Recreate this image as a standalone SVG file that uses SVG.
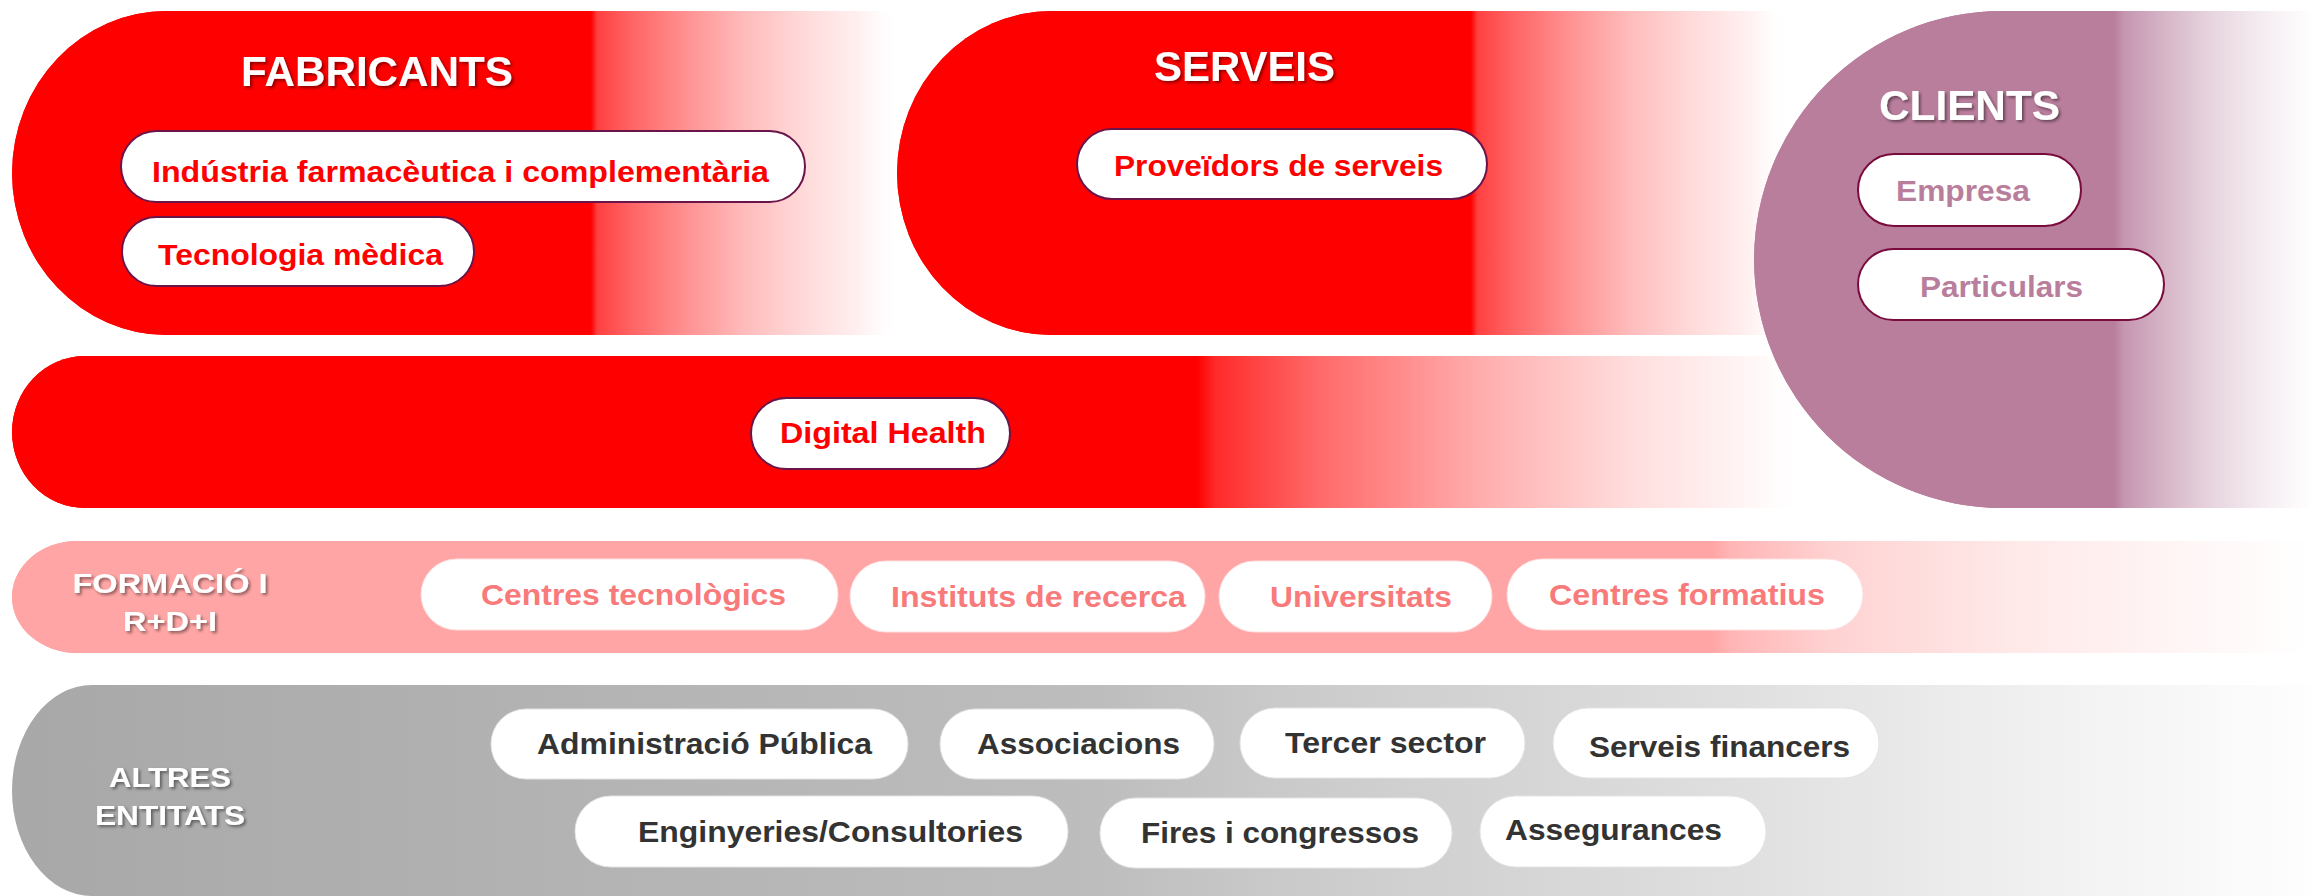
<svg xmlns="http://www.w3.org/2000/svg" width="2313" height="896" viewBox="0 0 2313 896">
  <defs>
    <linearGradient id="gFab" gradientUnits="userSpaceOnUse" x1="591" y1="0" x2="900" y2="0">
      <stop offset="0" stop-color="#ff0000"/>
      <stop offset="0.02" stop-color="#ff4040"/>
      <stop offset="0.13" stop-color="#ff6464"/>
      <stop offset="0.32" stop-color="#ff9494"/>
      <stop offset="0.5" stop-color="#ffbcbc"/>
      <stop offset="0.69" stop-color="#ffdada"/>
      <stop offset="0.87" stop-color="#fff0f0"/>
      <stop offset="1" stop-color="#ffffff" stop-opacity="0"/>
    </linearGradient>
    <linearGradient id="gSer" gradientUnits="userSpaceOnUse" x1="1471" y1="0" x2="1790" y2="0">
      <stop offset="0" stop-color="#ff0000"/>
      <stop offset="0.02" stop-color="#ff4040"/>
      <stop offset="0.13" stop-color="#ff6464"/>
      <stop offset="0.32" stop-color="#ff9494"/>
      <stop offset="0.5" stop-color="#ffbcbc"/>
      <stop offset="0.69" stop-color="#ffdada"/>
      <stop offset="0.87" stop-color="#fff0f0"/>
      <stop offset="1" stop-color="#ffffff" stop-opacity="0"/>
    </linearGradient>
    <linearGradient id="gDig" gradientUnits="userSpaceOnUse" x1="1197" y1="0" x2="1810" y2="0">
      <stop offset="0" stop-color="#ff0000"/>
      <stop offset="0.03" stop-color="#ff2a2a"/>
      <stop offset="0.2" stop-color="#ff6a6a"/>
      <stop offset="0.45" stop-color="#ffaaaa"/>
      <stop offset="0.7" stop-color="#ffdcdc"/>
      <stop offset="0.9" stop-color="#fff6f6"/>
      <stop offset="1" stop-color="#ffffff" stop-opacity="0"/>
    </linearGradient>
    <linearGradient id="gCli" gradientUnits="userSpaceOnUse" x1="2114" y1="0" x2="2313" y2="0">
      <stop offset="0" stop-color="#b97e9c"/>
      <stop offset="0.05" stop-color="#c596b0"/>
      <stop offset="0.28" stop-color="#d8b9ca"/>
      <stop offset="0.47" stop-color="#e6d2dd"/>
      <stop offset="0.67" stop-color="#f1e6ec"/>
      <stop offset="0.9" stop-color="#fbf8fa"/>
      <stop offset="1" stop-color="#ffffff"/>
    </linearGradient>
    <linearGradient id="gFor" gradientUnits="userSpaceOnUse" x1="1712" y1="0" x2="2313" y2="0">
      <stop offset="0" stop-color="#ffa5a5"/>
      <stop offset="0.03" stop-color="#ffb5b5"/>
      <stop offset="0.2" stop-color="#ffd2d2"/>
      <stop offset="0.49" stop-color="#ffe8e8"/>
      <stop offset="0.77" stop-color="#fff5f5"/>
      <stop offset="1" stop-color="#ffffff"/>
    </linearGradient>
    <linearGradient id="gAlt" gradientUnits="userSpaceOnUse" x1="12" y1="0" x2="2313" y2="0">
      <stop offset="0" stop-color="#a8a8a8"/>
      <stop offset="0.47" stop-color="#bdbdbd"/>
      <stop offset="0.56" stop-color="#cbcbcb"/>
      <stop offset="0.74" stop-color="#dedede"/>
      <stop offset="0.87" stop-color="#efefef"/>
      <stop offset="1" stop-color="#fefefe"/>
    </linearGradient>
    <filter id="shadow" x="-10%" y="-30%" width="120%" height="160%">
      <feDropShadow dx="2" dy="2" stdDeviation="1.5" flood-color="#000" flood-opacity="0.45"/>
    </filter>
  </defs>
  <style>
    text { font-family: "Liberation Sans", Arial, sans-serif; font-weight: bold; text-anchor: middle; }
    .title { fill: #ffffff; font-size: 43px; filter: url(#shadow); }
    .side { fill: #ffffff; font-size: 28px; filter: url(#shadow); }
    .pillR { fill: #ffffff; stroke: #6a1549; stroke-width: 2; }
    .pillC { fill: #ffffff; stroke: #7a0b3d; stroke-width: 2; }
    .pillF { fill: #ffffff; stroke: #ffe0e0; stroke-width: 1; }
    .pillA { fill: #ffffff; stroke: #e4e4e4; stroke-width: 1; }
    .tR { fill: #ff0000; font-size: 30px; }
    .tC { fill: #b97e9c; font-size: 30px; }
    .tF { fill: #f87a7a; font-size: 30px; }
    .tA { fill: #333333; font-size: 30px; }
  </style>

  <rect width="2313" height="896" fill="#ffffff"/>

  <g id="fabricants">
    <path d="M167,11 H900 V335 H167 A155 162 0 0 1 167,11 Z" fill="url(#gFab)"/>
    <path d="M167,11 H591 V335 H167 A155 162 0 0 1 167,11 Z" fill="#ff0000"/>
    <text class="title" x="377" y="86" textLength="272" lengthAdjust="spacingAndGlyphs">FABRICANTS</text>
    <g id="industria-farmaceutica">
      <rect class="pillR" x="121" y="131" width="684" height="71" rx="35.5"/>
      <text class="tR" x="460.5" y="182" textLength="617" lengthAdjust="spacingAndGlyphs">Indústria farmacèutica i complementària</text>
    </g>
    <g id="tecnologia-medica">
      <rect class="pillR" x="122" y="217" width="352" height="69" rx="34.5"/>
      <text class="tR" x="300.5" y="265" textLength="285" lengthAdjust="spacingAndGlyphs">Tecnologia mèdica</text>
    </g>
  </g>

  <g id="serveis">
    <path d="M1052,11 H1790 V335 H1052 A155 162 0 0 1 1052,11 Z" fill="url(#gSer)"/>
    <path d="M1052,11 H1471 V335 H1052 A155 162 0 0 1 1052,11 Z" fill="#ff0000"/>
    <text class="title" x="1244.5" y="81" font-size="42" textLength="181" lengthAdjust="spacingAndGlyphs">SERVEIS</text>
    <g id="proveidors">
      <rect class="pillR" x="1077" y="129" width="410" height="70" rx="35"/>
      <text class="tR" x="1278.5" y="176" textLength="329" lengthAdjust="spacingAndGlyphs">Proveïdors de serveis</text>
    </g>
  </g>

  <g id="digital-health-band">
    <path d="M85,356 H1810 V508 H85 A73 76 0 0 1 85,356 Z" fill="url(#gDig)"/>
    <path d="M85,356 H1197 V508 H85 A73 76 0 0 1 85,356 Z" fill="#ff0000"/>
    <g id="digital-health">
      <rect class="pillR" x="751" y="398" width="259" height="71" rx="35.5"/>
      <text class="tR" x="883" y="443" textLength="206" lengthAdjust="spacingAndGlyphs">Digital Health</text>
    </g>
  </g>

  <g id="clients">
    <path d="M2002,11 H2313 V508 H2002 A248 248.5 0 0 1 2002,11 Z" fill="url(#gCli)"/>
    <path d="M2002,11 H2114 V508 H2002 A248 248.5 0 0 1 2002,11 Z" fill="#b97e9c"/>
    <text class="title" x="1969.5" y="120" font-size="41" textLength="181" lengthAdjust="spacingAndGlyphs">CLIENTS</text>
    <g id="empresa">
      <rect class="pillC" x="1858" y="154" width="223" height="72" rx="36"/>
      <text class="tC" x="1963" y="201" textLength="134" lengthAdjust="spacingAndGlyphs">Empresa</text>
    </g>
    <g id="particulars">
      <rect class="pillC" x="1858" y="249" width="306" height="71" rx="35.5"/>
      <text class="tC" x="2001.5" y="297" textLength="163" lengthAdjust="spacingAndGlyphs">Particulars</text>
    </g>
  </g>

  <g id="formacio">
    <path d="M77,541 H2313 V653 H77 A65 56 0 0 1 77,541 Z" fill="url(#gFor)"/>
    <path d="M77,541 H1712 V653 H77 A65 56 0 0 1 77,541 Z" fill="#ffa5a5"/>
    <text class="side" x="170" y="593" textLength="195" lengthAdjust="spacingAndGlyphs">FORMACIÓ I</text>
    <text class="side" x="170" y="631" textLength="94" lengthAdjust="spacingAndGlyphs">R+D+I</text>
    <g id="centres-tecnologics">
      <rect class="pillF" x="421" y="559" width="417" height="71" rx="35.5"/>
      <text class="tF" x="633.5" y="605" textLength="305" lengthAdjust="spacingAndGlyphs">Centres tecnològics</text>
    </g>
    <g id="instituts-recerca">
      <rect class="pillF" x="850" y="561" width="355" height="71" rx="35.5"/>
      <text class="tF" x="1038.5" y="607" textLength="295" lengthAdjust="spacingAndGlyphs">Instituts de recerca</text>
    </g>
    <g id="universitats">
      <rect class="pillF" x="1219" y="561" width="273" height="71" rx="35.5"/>
      <text class="tF" x="1361" y="607" textLength="182" lengthAdjust="spacingAndGlyphs">Universitats</text>
    </g>
    <g id="centres-formatius">
      <rect class="pillF" x="1507" y="559" width="356" height="71" rx="35.5"/>
      <text class="tF" x="1687" y="605" textLength="276" lengthAdjust="spacingAndGlyphs">Centres formatius</text>
    </g>
  </g>

  <g id="altres">
    <path d="M92,685 H2313 V896 H92 A80 105.5 0 0 1 92,685 Z" fill="url(#gAlt)"/>
    <text class="side" x="170" y="787" textLength="122" lengthAdjust="spacingAndGlyphs">ALTRES</text>
    <text class="side" x="170" y="825" textLength="150" lengthAdjust="spacingAndGlyphs">ENTITATS</text>
    <g id="administracio-publica">
      <rect class="pillA" x="491" y="709" width="417" height="70" rx="35"/>
      <text class="tA" x="704.5" y="754" textLength="335" lengthAdjust="spacingAndGlyphs">Administració Pública</text>
    </g>
    <g id="associacions">
      <rect class="pillA" x="940" y="709" width="274" height="70" rx="35"/>
      <text class="tA" x="1078.5" y="754" textLength="203" lengthAdjust="spacingAndGlyphs">Associacions</text>
    </g>
    <g id="tercer-sector">
      <rect class="pillA" x="1240" y="708" width="285" height="70" rx="35"/>
      <text class="tA" x="1385.5" y="753" textLength="201" lengthAdjust="spacingAndGlyphs">Tercer sector</text>
    </g>
    <g id="serveis-financers">
      <rect class="pillA" x="1553" y="708" width="326" height="70" rx="35"/>
      <text class="tA" x="1719.5" y="757" textLength="261" lengthAdjust="spacingAndGlyphs">Serveis financers</text>
    </g>
    <g id="enginyeries">
      <rect class="pillA" x="575" y="796" width="493" height="71" rx="35.5"/>
      <text class="tA" x="830.5" y="842" textLength="385" lengthAdjust="spacingAndGlyphs">Enginyeries/Consultories</text>
    </g>
    <g id="fires-congressos">
      <rect class="pillA" x="1100" y="798" width="352" height="70" rx="35"/>
      <text class="tA" x="1280" y="843" textLength="278" lengthAdjust="spacingAndGlyphs">Fires i congressos</text>
    </g>
    <g id="assegurances">
      <rect class="pillA" x="1480" y="796" width="286" height="71" rx="35.5"/>
      <text class="tA" x="1613.5" y="840" textLength="217" lengthAdjust="spacingAndGlyphs">Assegurances</text>
    </g>
  </g>

  <g id="connectors"/>
</svg>
